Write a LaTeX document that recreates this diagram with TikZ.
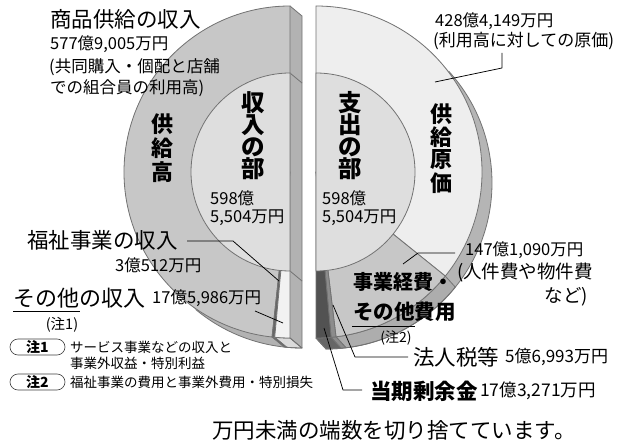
\documentclass[tikz,border=0pt]{standalone}
\usepackage{fontspec}
\setmainfont{Noto Sans CJK JP}
\usetikzlibrary{calc}
\newcommand\fsz[1]{\fontsize{#1}{#1}\selectfont}
\definecolor{edge}{gray}{0.45}
\definecolor{ringL}{gray}{0.78}
\definecolor{innerL}{gray}{0.87}
\definecolor{sideL}{gray}{0.70}
\definecolor{ringR}{gray}{0.935}
\definecolor{innerR}{gray}{0.87}
\definecolor{busi}{gray}{0.78}
\definecolor{busiside}{gray}{0.68}
\definecolor{sideR}{gray}{0.71}
\definecolor{darkS}{gray}{0.32}
\definecolor{darkSside}{gray}{0.40}
\definecolor{taxc}{gray}{0.55}
\definecolor{othc}{gray}{0.95}
\definecolor{othside}{gray}{0.86}
\definecolor{welc}{gray}{0.40}
\begin{document}
\begin{tikzpicture}[x=1pt,y=-1pt,
  outl/.style={draw=edge,line width=0.8pt,line join=round},
  lead/.style={draw=black,line width=0.75pt,line join=round},
  tl/.style={anchor=west,inner sep=0pt,text=black},
  tc/.style={anchor=center,inner sep=0pt,text=black},
  vt/.style={anchor=center,inner sep=0pt,font=\bfseries\fsz{22}},
  vtb/.style={anchor=center,inner sep=0pt,font=\bfseries\fsz{23.5}},
  capsule/.style={draw=black!75,line width=0.6pt,rounded corners=8pt,minimum width=55pt,minimum height=16pt,inner sep=0pt,font=\bfseries\fsz{14}},
]
\useasboundingbox (0,0) rectangle (618,446);
\fill[white] (0,0) rectangle (618,446);

% ---------------- left half (income) ----------------
\coordinate (CL) at (290,172);
\coordinate (CLo) at (302,182);
% extrusion body
\fill[sideL] ($(CL)+(270:166)$) -- ($(CLo)+(270:166)$) -- ($(CLo)+(90:166)$)
  arc[start angle=90,end angle=129.8,radius=166] -- ($(CL)+(129.8:166)$)
  arc[start angle=129.8,end angle=270,radius=166] -- cycle;
% curved side slices
\filldraw[fill=othside,outl] ($(CL)+(90:166)$) arc[start angle=90,end angle=95.29,radius=166]
  -- ($(CLo)+(95.29:166)$) arc[start angle=95.29,end angle=90,radius=166] -- cycle;
\filldraw[fill=welc,outl] ($(CL)+(95.29:166)$) arc[start angle=95.29,end angle=96.21,radius=166]
  -- ($(CLo)+(96.21:166)$) arc[start angle=96.21,end angle=95.29,radius=166] -- cycle;
\draw[outl] ($(CL)+(270:166)$) -- ($(CLo)+(270:166)$) -- ($(CLo)+(90:166)$)
  arc[start angle=90,end angle=129.8,radius=166];
\draw[outl] ($(CL)+(90:166)$) -- ($(CLo)+(90:166)$);
\draw[outl] ($(CL)+(270:99)$) -- ($(CLo)+(270:99)$);
\draw[outl] ($(CL)+(90:99)$) -- ($(CLo)+(90:99)$);
% front face
\filldraw[fill=ringL,outl] (CL) -- ($(CL)+(96.21:166)$) arc[start angle=96.21,end angle=270,radius=166] -- cycle;
\filldraw[fill=welc,outl] (CL) -- ($(CL)+(95.29:166)$) arc[start angle=95.29,end angle=96.21,radius=166] -- cycle;
\filldraw[fill=othc,outl] (CL) -- ($(CL)+(90:166)$) arc[start angle=90,end angle=95.29,radius=166] -- cycle;
\filldraw[fill=innerL,outl] ($(CL)+(90:99)$) arc[start angle=90,end angle=270,radius=99] -- cycle;

% ---------------- right half (expenditure) ----------------
\coordinate (CR) at (316,172);
\coordinate (CRo) at (326,183);
\fill[sideR] ($(CR)+(-90:166)$) arc[start angle=-90,end angle=-42.3,radius=166]
  -- ($(CRo)+(-42.3:166)$) arc[start angle=-42.3,end angle=90,radius=166]
  -- ($(CR)+(90:166)$) -- cycle;
\filldraw[fill=busiside,outl] ($(CR)+(38.84:166)$) arc[start angle=38.84,end angle=83.08,radius=166]
  -- ($(CRo)+(83.08:166)$) arc[start angle=83.08,end angle=38.84,radius=166] -- cycle;
\filldraw[fill=taxc,outl] ($(CR)+(83.08:166)$) arc[start angle=83.08,end angle=84.79,radius=166]
  -- ($(CRo)+(84.79:166)$) arc[start angle=84.79,end angle=83.08,radius=166] -- cycle;
\filldraw[fill=darkSside,outl] ($(CR)+(84.79:166)$) arc[start angle=84.79,end angle=90,radius=166]
  -- ($(CRo)+(90:166)$) arc[start angle=90,end angle=84.79,radius=166] -- cycle;
\draw[outl] ($(CRo)+(-42.3:166)$) arc[start angle=-42.3,end angle=90,radius=166] -- ($(CR)+(90:166)$);
% front face
\filldraw[fill=ringR,outl] (CR) -- ($(CR)+(-90:166)$) arc[start angle=-90,end angle=38.84,radius=166] -- cycle;
\filldraw[fill=busi,outl] (CR) -- ($(CR)+(38.84:166)$) arc[start angle=38.84,end angle=83.08,radius=166] -- cycle;
\filldraw[fill=taxc,outl] (CR) -- ($(CR)+(83.08:166)$) arc[start angle=83.08,end angle=84.79,radius=166] -- cycle;
\filldraw[fill=darkS,outl] (CR) -- ($(CR)+(84.79:166)$) arc[start angle=84.79,end angle=90,radius=166] -- cycle;
\filldraw[fill=innerR,outl] ($(CR)+(-90:99)$) arc[start angle=-90,end angle=90,radius=99] -- cycle;

% ---------------- vertical titles ----------------
\foreach \c [count=\i] in {供,給,高} \node[vt] (ka\i) at (162,100+24*\i) {\c};
\foreach \c [count=\i] in {収,入,の,部} \node[vtb] (ia\i) at (253,81+22*\i) {\c};
\foreach \c [count=\i] in {支,出,の,部} \node[vtb] (sa\i) at (350,81+22*\i) {\c};
\foreach \c [count=\i] in {供,給,原,価} \node[vt] (ga\i) at (441,91+23*\i) {\c};

% ---------------- totals ----------------
\node[tl,font=\fsz{16.5}] (tl1) at (210,198) {598億};
\node[tl,font=\fsz{16.5}] (tl2) at (210,218) {5,504万円};
\node[tl,font=\fsz{16.5}] (tr1) at (322,198) {598億};
\node[tl,font=\fsz{16.5}] (tr2) at (322,218) {5,504万円};

% ---------------- left labels ----------------
\node[tl,font=\fsz{21.5}] (sk1) at (50,19) {商品供給の収入};
\node[tl,font=\fsz{16.5}] (sk2) at (50,44) {577億9,005万円};
\node[tl,font=\fsz{16.5}] (sk3) at (49,67) {(共同購入・個配と店舗};
\node[tl,font=\fsz{16.5}] (sk4) at (50,88) {での組合員の利用高)};

\node[tl,font=\fsz{21.5}] (wf1) at (27,240) {福祉事業の収入};
\node[tl,font=\fsz{16.5}] (wf2) at (115,265) {3億512万円};
\node[tl,font=\fsz{22}] (ot1) at (13,298) {その他の収入};
\node[tl,font=\fsz{16.5}] (ot2) at (152,298) {17億5,986万円};
\node[tc,font=\fsz{14.5}] (ot3) at (62,325) {(注1)};

\coordinate (wfA) at (187,241);
\coordinate (wfB) at (233,241);
\coordinate (wfC) at (279,281);
\draw[lead] (wfA) -- (wfB) -- (wfC);
\coordinate (otA) at (255,311);
\coordinate (otB) at (283,323);
\draw[lead] (otA) -- (otB);
\coordinate (ulA) at (13,311);
\coordinate (ulB) at (80,311);
\draw[lead] (ulA) -- (ulB);

% ---------------- notes ----------------
\node[capsule] (n1) at (37.5,347) {注1};
\node[tl,font=\fsz{13.5}] (n1a) at (70,347) {サービス事業などの収入と};
\node[tl,font=\fsz{13.5}] (n1b) at (70,363) {事業外収益・特別利益};
\node[capsule] (n2) at (37.5,382) {注2};
\node[tl,font=\fsz{13.5}] (n2a) at (70,382) {福祉事業の費用と事業外費用・特別損失};

% ---------------- right labels ----------------
\node[tl,font=\fsz{16.5}] (gc1) at (435,21) {428億4,149万円};
\node[tl,font=\fsz{17}] (gc2) at (433,41) {(利用高に対しての原価)};
\coordinate (gcA) at (502,53);
\coordinate (gcB) at (502,68);
\coordinate (gcC) at (435,82);
\draw[lead] (gcA) -- (gcB) -- (gcC);

\node[tl,font=\fsz{16.5}] (be1) at (465,250) {147億1,090万円};
\node[tl,font=\fsz{18.5}] (be2) at (457,273) {(人件費や物件費};
\node[anchor=east,inner sep=0pt,font=\fsz{18.5}] (be3) at (588,297) {など)};
\coordinate (beA) at (455,253);
\coordinate (beB) at (418,253);
\coordinate (beC) at (403,264);
\draw[lead] (beA) -- (beB) -- (beC);

\node[tl,font=\bfseries\fsz{20}] (bx1) at (353,282) {事業経費・};
\node[tl,font=\bfseries\fsz{20.5}] (bx2) at (353,312) {その他費用};
\coordinate (ul2A) at (352,326);
\coordinate (ul2B) at (415,326);
\draw[lead] (ul2A) -- (ul2B);
\node[tc,font=\fsz{14}] (bx3) at (396,338) {(注2)};

\node[tl,font=\fsz{21.5}] (tx1) at (413,357) {法人税等};
\node[tl,font=\fsz{17}] (tx2) at (505,357) {5億6,993万円};
\coordinate (txA) at (333,305);
\coordinate (txB) at (355,357);
\coordinate (txC) at (408,357);
\draw[lead] (txA) -- (txB) -- (txC);

\node[tl,font=\bfseries\fsz{21.5}] (sp1) at (370,391) {当期剰余金};
\node[tl,font=\fsz{17.5}] (sp2) at (480,391) {17億3,271万円};
\coordinate (spA) at (324,328);
\coordinate (spB) at (343,390);
\coordinate (spC) at (362,390);
\draw[lead] (spA) -- (spB) -- (spC);

\node[tl,font=\fsz{21.5}] (ft) at (212,430) {万円未満の端数を切り捨てています。};
\end{tikzpicture}
\end{document}
